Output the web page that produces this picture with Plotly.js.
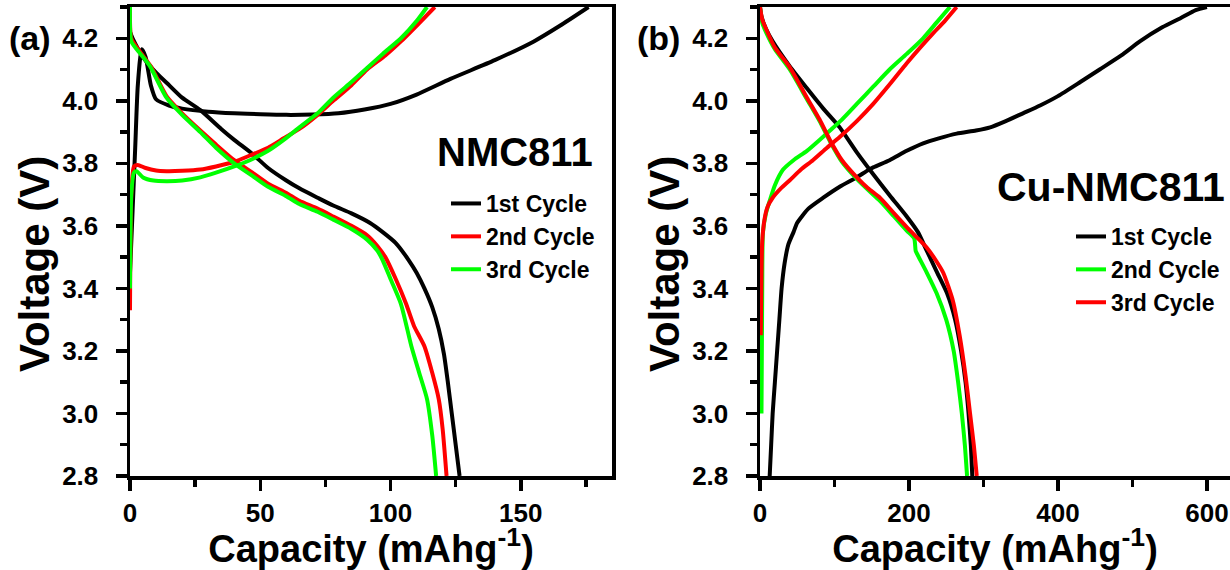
<!DOCTYPE html>
<html>
<head>
<meta charset="utf-8">
<script src="https://cdn.plot.ly/plotly-3.0.1.min.js"></script>
<style>html,body{margin:0;padding:0;background:#fff;}#chart{width:1230px;height:570px;}</style>
</head>
<body>
<div id="chart"></div>
<script>
// ===== Panel (a): NMC811 =====
const aNames = ["1st Cycle", "2nd Cycle", "3rd Cycle"];
const aColors = ["#000000", "#ff0000", "#00ff00"];

const a1ChargeCap = [0, 1, 2, 3, 4.5, 6, 8, 10, 15, 20, 30, 40, 50, 60, 70, 80, 90, 100, 110, 123, 140, 155, 165, 176];
const a1ChargeV   = [3.45, 3.65, 3.85, 4.05, 4.165, 4.14, 4.05, 4.005, 3.985, 3.975, 3.965, 3.96, 3.957, 3.955, 3.956, 3.96, 3.972, 3.99, 4.02, 4.07, 4.13, 4.19, 4.24, 4.3];
const a1DischCap  = [0, 1, 5, 10, 15, 20, 27, 35, 40, 47, 53, 60, 65, 72, 78, 85, 92, 97, 102, 107, 110, 113, 116, 118.5, 120.5, 122, 123.5, 125, 126.5];
const a1DischV    = [4.22, 4.2, 4.14, 4.09, 4.05, 4.01, 3.97, 3.91, 3.875, 3.83, 3.785, 3.745, 3.72, 3.69, 3.665, 3.64, 3.61, 3.58, 3.545, 3.49, 3.45, 3.4, 3.34, 3.27, 3.19, 3.1, 3.0, 2.9, 2.8];

const a2ChargeCap = [0, 0.5, 1.5, 3, 6, 10, 14, 20, 27, 33, 40, 46, 53, 59, 65, 72, 78, 85, 91, 98, 104, 110, 117];
const a2ChargeV   = [3.33, 3.7, 3.79, 3.795, 3.785, 3.777, 3.775, 3.776, 3.78, 3.79, 3.805, 3.825, 3.85, 3.88, 3.91, 3.955, 4.0, 4.05, 4.1, 4.145, 4.19, 4.24, 4.3];
const a2DischCap  = [0, 0.5, 4, 8, 14, 20, 27, 33, 40, 47, 53, 60, 65, 72, 78, 85, 91, 95, 98, 102, 106, 109, 113, 116, 118.5, 120, 121.5];
const a2DischV    = [4.3, 4.2, 4.155, 4.11, 4.015, 3.96, 3.905, 3.86, 3.81, 3.77, 3.735, 3.705, 3.68, 3.655, 3.63, 3.6, 3.57, 3.535, 3.5, 3.43, 3.35, 3.28, 3.215, 3.13, 3.046, 2.95, 2.8];

const a3ChargeCap = [0, 0.5, 1.5, 2.5, 5, 9, 14, 20, 27, 33, 40, 46, 53, 59, 65, 72, 78, 85, 91, 97, 104, 110, 114];
const a3ChargeV   = [3.4, 3.7, 3.77, 3.775, 3.755, 3.745, 3.743, 3.745, 3.755, 3.77, 3.79, 3.81, 3.84, 3.875, 3.915, 3.96, 4.01, 4.06, 4.105, 4.15, 4.2, 4.255, 4.3];
const a3DischCap  = [0, 0.5, 4, 7.7, 14, 20, 27, 33, 40, 47, 53, 60, 65, 72, 78, 85, 91, 95, 97, 100, 104, 108, 111, 114, 116, 117.5];
const a3DischV    = [4.3, 4.19, 4.15, 4.11, 4.01, 3.955, 3.9, 3.85, 3.8, 3.76, 3.725, 3.695, 3.67, 3.645, 3.62, 3.59, 3.556, 3.52, 3.49, 3.43, 3.35, 3.215, 3.13, 3.046, 2.93, 2.8];

// ===== Panel (b): Cu-NMC811 =====
const bNames = ["1st Cycle", "2nd Cycle", "3rd Cycle"];
const bColors = ["#000000", "#00ff00", "#ff0000"];

const b1ChargeCap = [13, 15, 17, 20, 23, 26, 29, 33, 38, 45, 50, 65, 85, 107, 130, 143, 152, 174, 197, 219, 240, 264, 290, 309, 330, 353, 376, 400, 430, 456, 485, 510, 540, 565, 585, 600];
const b1ChargeV   = [2.8, 2.9, 3.0, 3.1, 3.2, 3.3, 3.4, 3.48, 3.54, 3.58, 3.61, 3.655, 3.69, 3.725, 3.755, 3.775, 3.787, 3.81, 3.84, 3.864, 3.88, 3.895, 3.905, 3.915, 3.935, 3.96, 3.985, 4.015, 4.06, 4.1, 4.145, 4.19, 4.235, 4.265, 4.29, 4.3];
const b1DischCap  = [0, 2, 8, 17, 40, 63, 85, 107, 130, 152, 175, 197, 212, 224, 238, 251, 262, 270, 276, 280, 283, 285];
const b1DischV    = [4.3, 4.27, 4.23, 4.19, 4.11, 4.04, 3.975, 3.915, 3.835, 3.765, 3.695, 3.63, 3.58, 3.52, 3.45, 3.385, 3.3, 3.2, 3.1, 3.0, 2.9, 2.8];

const b2ChargeCap = [2, 3, 4, 8, 13, 20, 31, 45, 63, 80, 94, 110, 130, 152, 174, 197, 219, 237, 255];
const b2ChargeV   = [3.0, 3.4, 3.58, 3.64, 3.68, 3.73, 3.78, 3.81, 3.84, 3.875, 3.905, 3.94, 3.99, 4.045, 4.1, 4.15, 4.2, 4.25, 4.3];
const b2DischCap  = [0, 3, 9, 20, 40, 63, 80, 94, 110, 130, 145, 161, 180, 197, 207, 209, 211, 224, 237, 250, 260, 266, 271, 275, 278];
const b2DischV    = [4.3, 4.25, 4.215, 4.165, 4.1, 4.005, 3.935, 3.87, 3.805, 3.75, 3.715, 3.68, 3.63, 3.585, 3.56, 3.52, 3.51, 3.45, 3.385, 3.3, 3.2, 3.1, 3.0, 2.9, 2.8];

const b3ChargeCap = [1, 2, 3, 6, 10, 17, 28, 40, 55, 71, 90, 107, 130, 152, 175, 197, 215, 232, 248, 264];
const b3ChargeV   = [3.25, 3.45, 3.55, 3.62, 3.66, 3.69, 3.72, 3.746, 3.78, 3.81, 3.85, 3.884, 3.935, 3.99, 4.055, 4.12, 4.17, 4.215, 4.255, 4.3];
const b3DischCap  = [0, 3, 9, 20, 40, 63, 80, 94, 110, 130, 145, 161, 180, 197, 212, 224, 236, 246, 259, 268, 276, 282, 287, 291];
const b3DischV    = [4.3, 4.26, 4.225, 4.17, 4.107, 4.01, 3.94, 3.874, 3.81, 3.755, 3.72, 3.69, 3.64, 3.596, 3.56, 3.53, 3.49, 3.45, 3.36, 3.25, 3.12, 3.0, 2.9, 2.8];

const aLabel = "NMC811";
const bLabel = "Cu-NMC811";
const xTitle = "Capacity (mAhg<sup>-1</sup>)";
const yTitle = "Voltage (V)";

const FONT = "Liberation Sans, Arial, Helvetica, sans-serif";
const LW = 4;

function pair(xs, ys, name, color, xa, ya, legend, show, group) {
  return {
    x: xs, y: ys, type: "scatter", mode: "lines", name: name,
    line: {color: color, width: LW, shape: "spline", smoothing: 0.6},
    xaxis: xa, yaxis: ya, legend: legend, legendgroup: group, showlegend: show,
    hoverinfo: "skip"
  };
}

const aSets = [[a1ChargeCap, a1ChargeV, a1DischCap, a1DischV], [a2ChargeCap, a2ChargeV, a2DischCap, a2DischV], [a3ChargeCap, a3ChargeV, a3DischCap, a3DischV]];
const bSets = [[b1ChargeCap, b1ChargeV, b1DischCap, b1DischV], [b2ChargeCap, b2ChargeV, b2DischCap, b2DischV], [b3ChargeCap, b3ChargeV, b3DischCap, b3DischV]];

const traces = [];
aSets.forEach((s, i) => {
  traces.push(pair(s[0], s[1], aNames[i], aColors[i], "x", "y", "legend", true, "a" + i));
  traces.push(pair(s[2], s[3], aNames[i], aColors[i], "x", "y", "legend", false, "a" + i));
});
bSets.forEach((s, i) => {
  traces.push(pair(s[0], s[1], bNames[i], bColors[i], "x2", "y2", "legend2", true, "b" + i));
  traces.push(pair(s[2], s[3], bNames[i], bColors[i], "x2", "y2", "legend2", false, "b" + i));
});

const W = 1230, H = 570, ML = 0, MT = 7, MB = 94;
const PH = H - MT - MB;
const px = v => v / W;
const py = v => (H - MB - v) / PH;

function xAxis(domain, range, dtick, minor, anchor, title) {
  return {
    domain: domain, range: range, anchor: anchor, tick0: 0, dtick: dtick,
    showline: true, linecolor: "#000", linewidth: 3.5, mirror: true,
    ticks: "outside", ticklen: 11, tickwidth: 3.5, tickcolor: "#000",
    minor: {dtick: minor, ticks: "outside", ticklen: 7, tickwidth: 3.5, tickcolor: "#000"},
    showgrid: false, zeroline: false, ticklabelstandoff: 0,
    tickfont: {family: FONT, size: 26, weight: "bold", color: "#000"},
    title: {text: title, standoff: 2, font: {family: FONT, size: 38, weight: "bold", color: "#000"}}
  };
}
function yAxis(anchor, mirror) {
  return {
    domain: [0, 1], range: [2.8, 4.3], anchor: anchor, tick0: 2.8, dtick: 0.2, tickformat: ".1f",
    showline: true, linecolor: "#000", linewidth: 3.5, mirror: mirror,
    ticks: "outside", ticklen: 11, tickwidth: 3.5, tickcolor: "#000",
    minor: {dtick: 0.1, ticks: "outside", ticklen: 7, tickwidth: 3.5, tickcolor: "#000"},
    showgrid: false, zeroline: false, ticklabelstandoff: 12,
    tickfont: {family: FONT, size: 26, weight: "bold", color: "#000"}
  };
}

const layout = {
  width: W, height: H,
  margin: {l: ML, r: 0, t: MT, b: MB, pad: 0},
  paper_bgcolor: "#fff", plot_bgcolor: "#fff",
  font: {family: FONT, color: "#000"},
  xaxis: xAxis([px(130), px(612)], [0, 185], 50, 25, "y", xTitle),
  yaxis: yAxis("x", true),
  xaxis2: xAxis([px(760), 1], [0, 631], 200, 100, "y2", xTitle),
  yaxis2: yAxis("x2", false),
  legend: {x: px(446), y: py(182), xanchor: "left", yanchor: "top", bgcolor: "rgba(0,0,0,0)", borderwidth: 0,
           font: {family: FONT, size: 23, weight: "bold", color: "#000"}, tracegroupgap: 0, itemwidth: 30},
  legend2: {x: px(1071), y: py(215), xanchor: "left", yanchor: "top", bgcolor: "rgba(0,0,0,0)", borderwidth: 0,
           font: {family: FONT, size: 23, weight: "bold", color: "#000"}, tracegroupgap: 0, itemwidth: 30},
  annotations: [
    {text: "(a)", xref: "paper", yref: "paper", x: px(30), y: py(38), xanchor: "center", yanchor: "middle", showarrow: false,
     font: {family: FONT, size: 34, weight: "bold", color: "#000"}},
    {text: "(b)", xref: "paper", yref: "paper", x: px(658), y: py(38), xanchor: "center", yanchor: "middle", showarrow: false,
     font: {family: FONT, size: 34, weight: "bold", color: "#000"}},
    {text: aLabel, xref: "paper", yref: "paper", x: px(515), y: py(152), xanchor: "center", yanchor: "middle", showarrow: false,
     font: {family: FONT, size: 40, weight: "bold", color: "#000"}},
    {text: bLabel, xref: "paper", yref: "paper", x: px(1227), y: py(187), xanchor: "right", yanchor: "middle", showarrow: false,
     font: {family: FONT, size: 41, weight: "bold", color: "#000"}},
    {text: yTitle, xref: "paper", yref: "paper", x: px(35), y: py(264), xanchor: "center", yanchor: "middle", textangle: -90, showarrow: false,
     font: {family: FONT, size: 42, weight: "bold", color: "#000"}},
    {text: yTitle, xref: "paper", yref: "paper", x: px(665), y: py(264), xanchor: "center", yanchor: "middle", textangle: -90, showarrow: false,
     font: {family: FONT, size: 42, weight: "bold", color: "#000"}}
  ]
};

Plotly.newPlot("chart", traces, layout, {displayModeBar: false, staticPlot: true});
</script>
</body>
</html>
